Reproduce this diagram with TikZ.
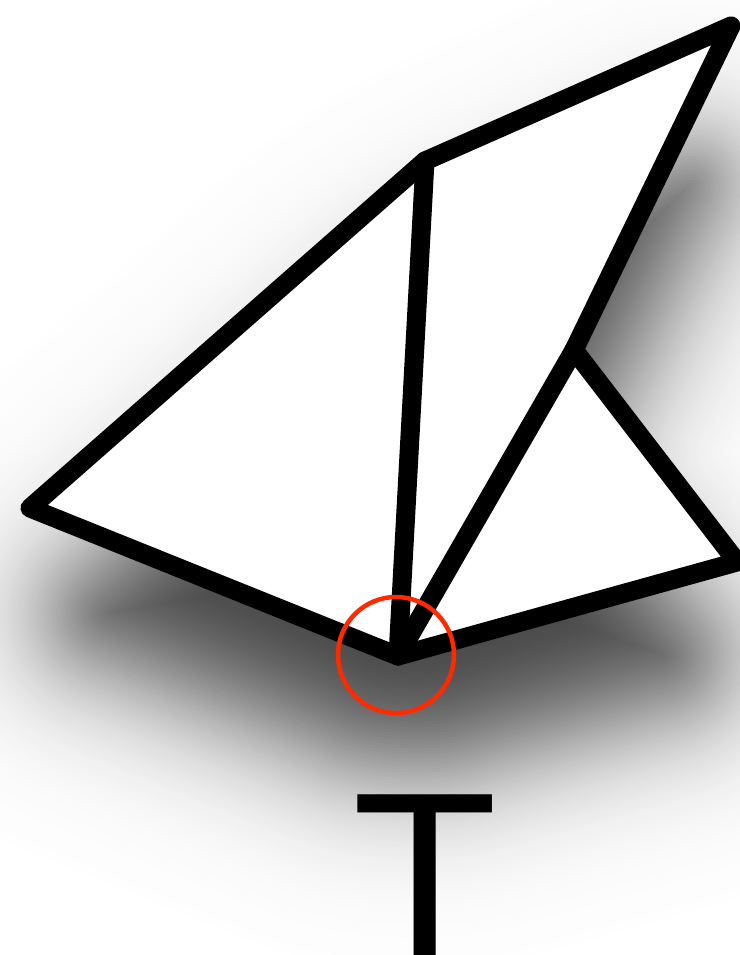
\documentclass[tikz,border=0pt]{standalone}
\usepackage{fontspec}
\setmainfont{Liberation Sans}
\definecolor{ringred}{RGB}{255,42,0}
\tikzset{
  edge/.style={line width=19pt, line join=round, line cap=round, black},
  ring/.style={line width=4.5pt, draw=ringred},
  shadowpart/.style={line join=round},
}
\def\shapepath{(L) -- (M) -- (R1) -- (N) -- (R2) -- (B) -- cycle}
\def\shadowpath{(sL) -- (sM) -- (sR1) -- (sN) -- (sR2) -- (sB) -- cycle}
\def\shA{0.76}
\def\shS{70}
\begin{document}
\begin{tikzpicture}[x=1pt,y=-1pt]
\fill[white] (0,0) rectangle (739,955);
\useasboundingbox (0,0) rectangle (739,955);
\coordinate (L) at (30,508);
\coordinate (M) at (425,161);
\coordinate (R1) at (731,26);
\coordinate (N) at (574,350);
\coordinate (R2) at (737,562);
\coordinate (B) at (398,656);
\foreach \c in {L,M,R1,N,R2,B}{
  \coordinate (s\c) at ([shift={(2,118)}]\c);
}
% soft drop shadow: opaque grey levels following the distance to the shifted outline
\begin{scope}[rounded corners=75pt]
  % outside the shadow outline
  \foreach \d in {210,207,...,3}{
    \pgfmathsetmacro{\p}{100*\shA/(1+exp(1.702*(\d-1.5)/\shS))}
    \path[shadowpart, fill=black!\p, draw=black!\p, line width=2*\d pt] \shadowpath;
  }
  % inside the shadow outline
  \pgfmathsetmacro{\p}{100*\shA/(1+exp(-1.702*210/\shS))}
  \fill[black!\p] \shadowpath;
  \foreach \d in {210,207,...,3}{
    \pgfmathsetmacro{\p}{100*\shA/(1+exp(-1.702*(\d-1.5)/\shS))}
    \begin{scope}
      \clip \shadowpath;
      \draw[shadowpart, black!\p, line width=2*\d pt] \shadowpath;
    \end{scope}
  }
  \pgfmathsetmacro{\p}{50*\shA}
  \draw[shadowpart, black!\p, line width=2pt] \shadowpath;
\end{scope}
\fill[white] \shapepath;
\draw[edge] \shapepath;
\draw[edge] (M) -- (B);
\draw[edge] (N) -- (B);
\node[ring, circle, minimum size=116pt, inner sep=0pt] (ringc) at (396,655) {};
\node[inner sep=0pt, anchor=base, font=\fontsize{238}{240}\selectfont] (T) at (425,958) {T};
\end{tikzpicture}
\end{document}
